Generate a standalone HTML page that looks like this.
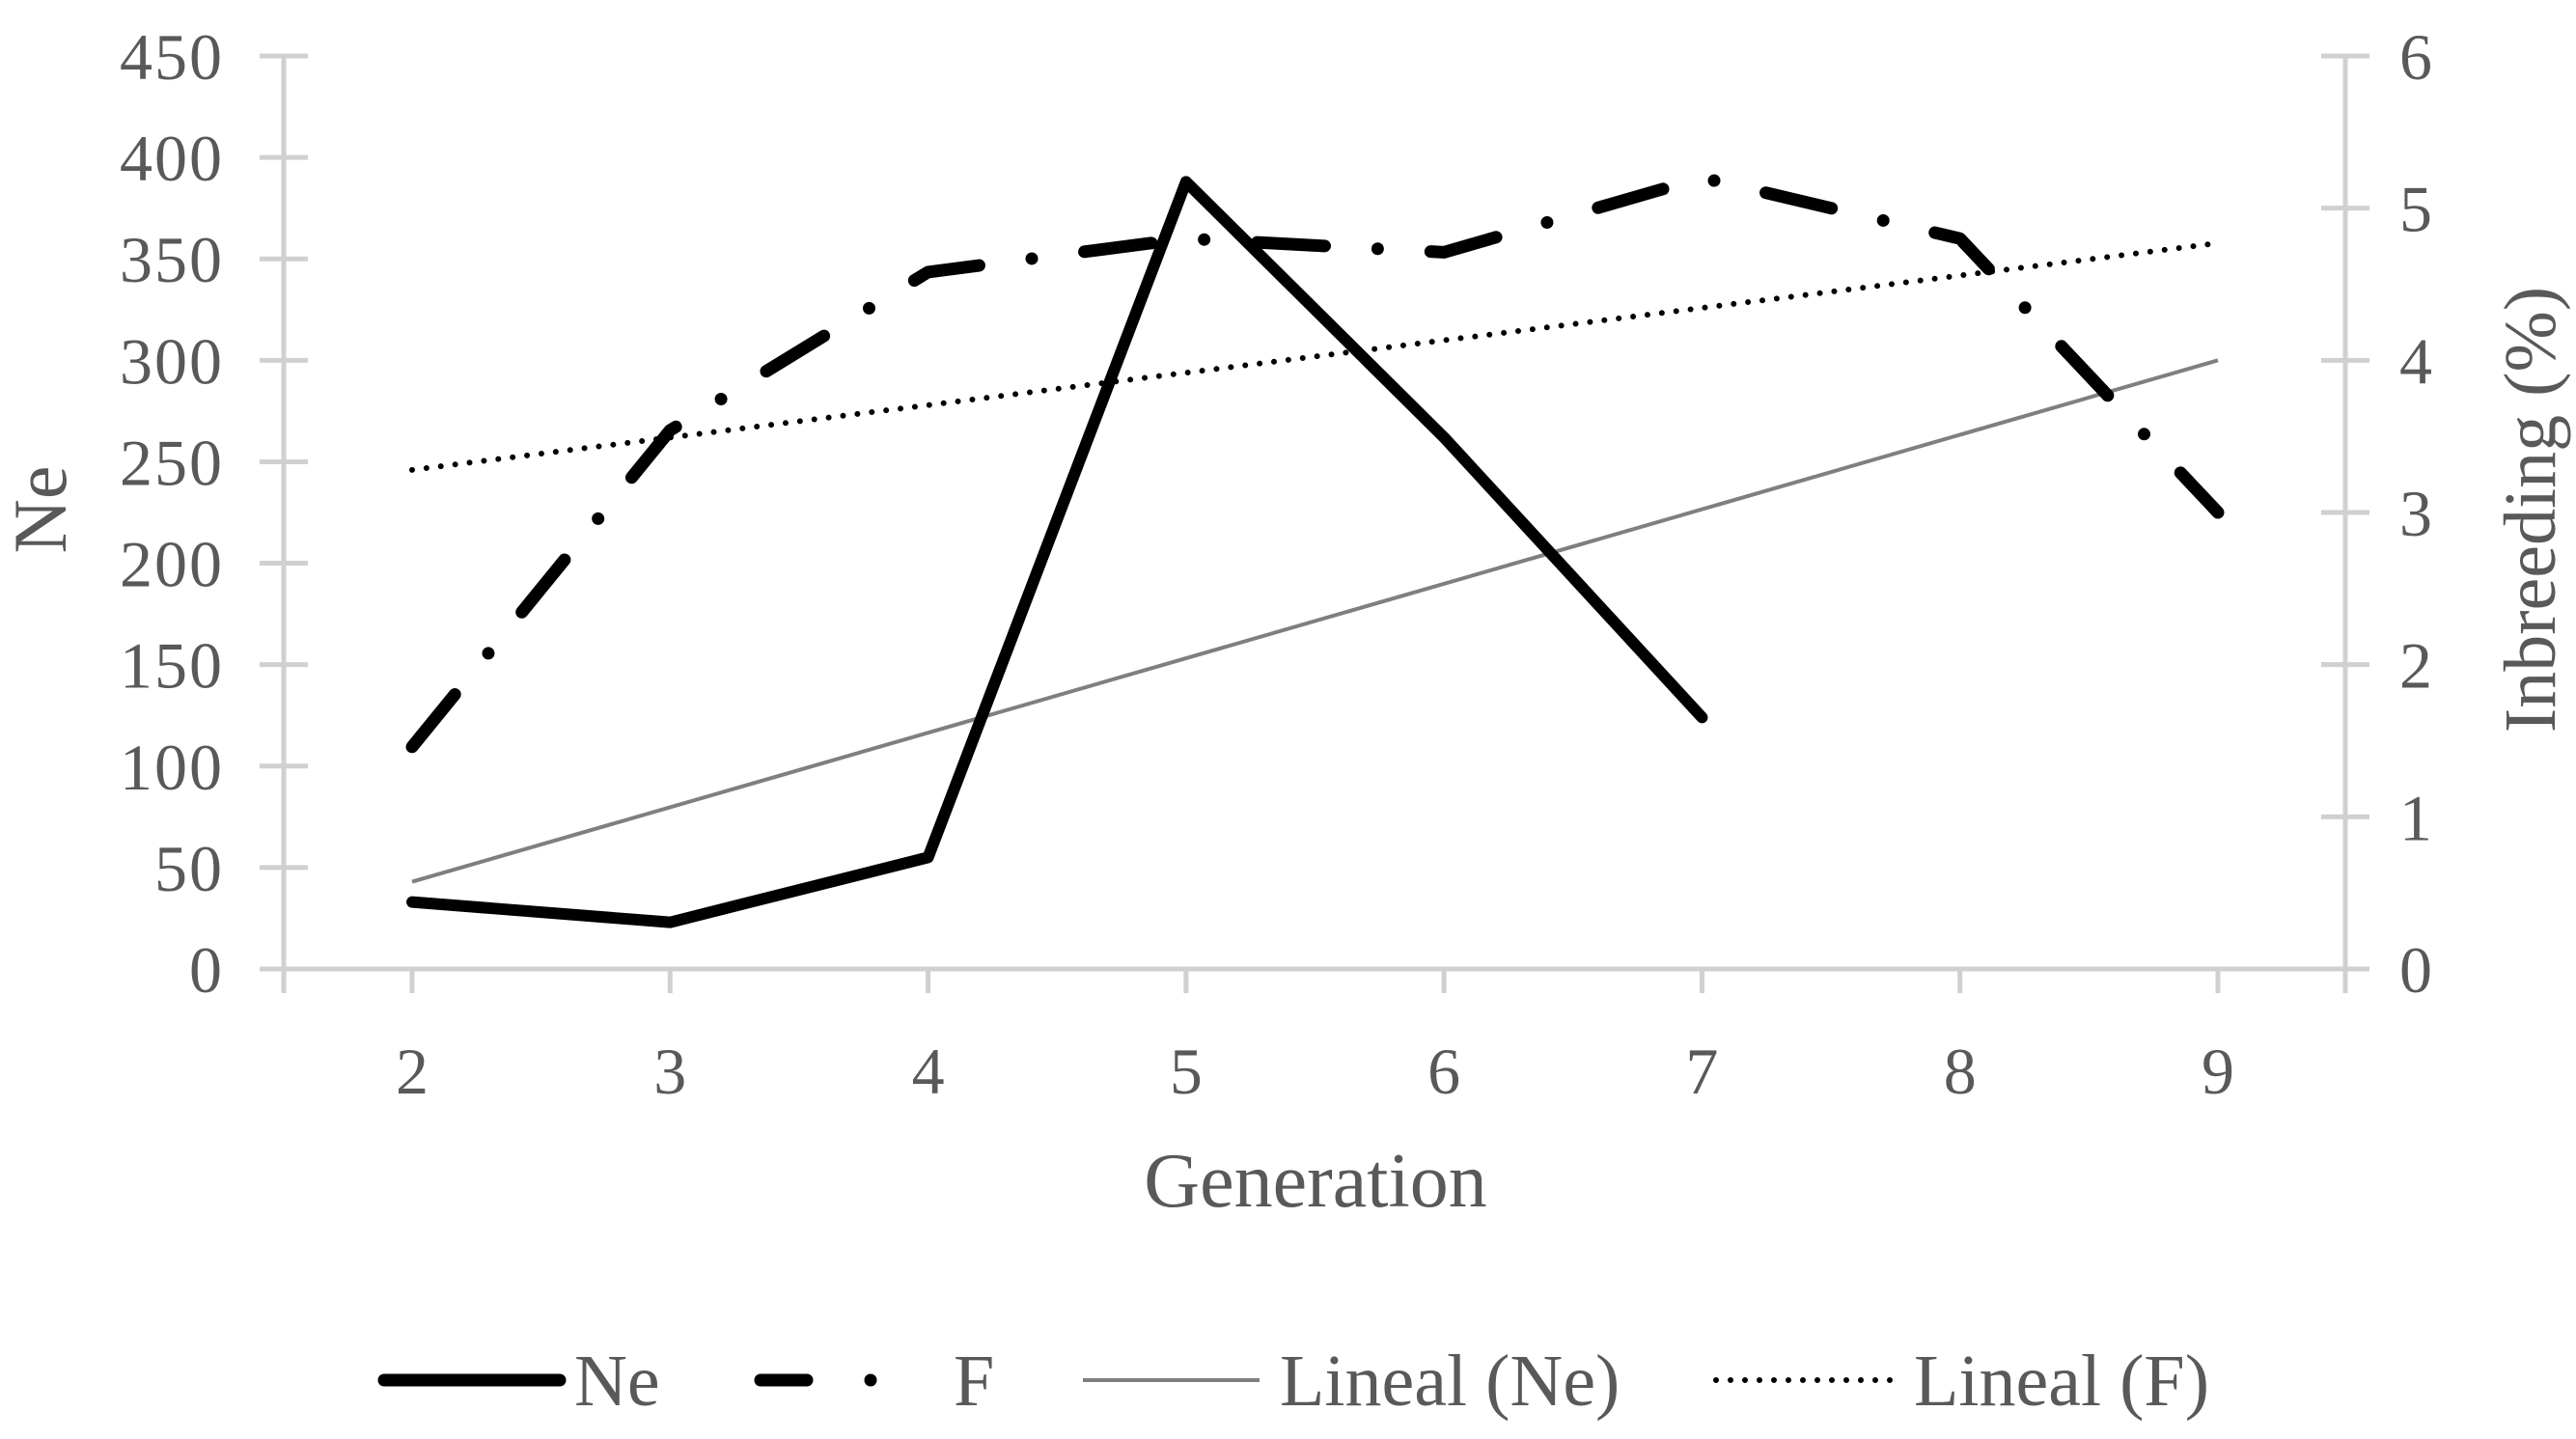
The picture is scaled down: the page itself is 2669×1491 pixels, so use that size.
<!DOCTYPE html>
<html><head><meta charset="utf-8"><style>
html,body{margin:0;padding:0;background:#fff;}
svg text{font-family:"Liberation Serif",serif;fill:#595959;}
</style></head><body>
<svg id="chart" width="2669" height="1486" viewBox="0 0 2669 1486" xmlns="http://www.w3.org/2000/svg">
<g id="axes"></g>
<g id="series"></g>
<text x="0" y="0" font-size="78" text-anchor="middle" transform="translate(68,528) rotate(-90)">Ne</text>
<text x="0" y="0" font-size="76" text-anchor="middle" transform="translate(2647,528) rotate(-90)">Inbreeding (%)</text>
<text x="1363" y="1250" font-size="80" text-anchor="middle">Generation</text>
<g id="legend">
  <g>
    <line x1="398" y1="1430" x2="580" y2="1430" stroke="#000" stroke-width="13" stroke-linecap="round"/>
    <text x="595" y="1456" font-size="76">Ne</text>
  </g>
  <g>
    <line x1="788" y1="1430" x2="836" y2="1430" stroke="#000" stroke-width="13" stroke-linecap="round"/>
    <line x1="902" y1="1430" x2="902" y2="1430" stroke="#000" stroke-width="13" stroke-linecap="round"/>
    <text x="988" y="1456" font-size="76">F</text>
  </g>
  <g>
    <line x1="1122" y1="1430" x2="1305" y2="1430" stroke="#7f7f7f" stroke-width="4"/>
    <text x="1326" y="1456" font-size="76">Lineal (Ne)</text>
  </g>
  <g>
    <line x1="1778" y1="1430" x2="1960" y2="1430" stroke="#000" stroke-width="6" stroke-dasharray="0 15" stroke-linecap="round"/>
    <text x="1983" y="1456" font-size="76">Lineal (F)</text>
  </g>
</g>
</svg>
<script>
const generations = [2,3,4,5,6,7,8,9];
const neValues = [33,23,55,388,262,124];
const fValues = [1.46,3.54,4.58,4.8,4.71,5.2,4.8,3.0];
const leftTicks = [0,50,100,150,200,250,300,350,400,450];
const rightTicks = [0,1,2,3,4,5,6];
const trendNeGen = [2,9];
const trendNeValues = [43,300];
const trendFGen = [2,9];
const trendFValues = [3.28,4.77];

const NS='http://www.w3.org/2000/svg';
const axL=294, axR=2430, y0=1004, yTop=58;
const xFirst=427, xLast=2298;
const xS=g=>xFirst+(g-2)*(xLast-xFirst)/7;
const yL=v=>y0-v*(y0-yTop)/450;
const yR=v=>y0-v*(y0-yTop)/6;
function mk(tag,attrs,parent){const e=document.createElementNS(NS,tag);for(const k in attrs)e.setAttribute(k,attrs[k]);parent.appendChild(e);return e;}
const axes=document.getElementById('axes'), series=document.getElementById('series');
const ac='#d0d0d0';
let e;
e=mk('line',{x1:axL,y1:yTop,x2:axL,y2:y0,stroke:ac,'stroke-width':5},axes);


e=mk('line',{x1:axR,y1:yTop,x2:axR,y2:y0,stroke:ac,'stroke-width':5},axes);


e=mk('line',{x1:axL-25,y1:y0,x2:axR+25,y2:y0,stroke:ac,'stroke-width':5},axes);


leftTicks.forEach(v=>{
  const t=mk('line',{x1:axL-25,y1:yL(v),x2:axL+25,y2:yL(v),stroke:ac,'stroke-width':5},axes);
  
  
  const l=mk('text',{x:axL-62,y:yL(v)+24,'font-size':68,'text-anchor':'end','letter-spacing':2},axes);
  l.textContent=v;
  
  
});
rightTicks.forEach(v=>{
  const t=mk('line',{x1:axR-25,y1:yR(v),x2:axR+25,y2:yR(v),stroke:ac,'stroke-width':5},axes);
  
  
  const l=mk('text',{x:axR+56,y:yR(v)+24,'font-size':68,'text-anchor':'start'},axes);
  l.textContent=v;
  
  
});
generations.forEach(g=>{
  const t=mk('line',{x1:xS(g),y1:y0,x2:xS(g),y2:y0+25,stroke:ac,'stroke-width':5},axes);
  
  
  const l=mk('text',{x:xS(g),y:1133,'font-size':68,'text-anchor':'middle'},axes);
  l.textContent=g;
  
  
});
[axL,axR].forEach(x=>{
  const t=mk('line',{x1:x,y1:y0,x2:x,y2:y0+25,stroke:ac,'stroke-width':5},axes);
  
  
});
function pts(gs,vs,ys){return vs.map((v,i)=>xS(gs[i])+','+ys(v)).join(' ');}
e=mk('polyline',{points:pts(trendNeGen,trendNeValues,yL),fill:'none',stroke:'#7f7f7f','stroke-width':4},series);


e=mk('polyline',{points:pts(trendFGen,trendFValues,yR),fill:'none',stroke:'#000','stroke-width':6,'stroke-dasharray':'0 15','stroke-linecap':'round'},series);


e=mk('polyline',{points:pts(generations,fValues,yR),fill:'none',stroke:'#000','stroke-width':13,'stroke-dasharray':'70 55 0 55','stroke-linecap':'round','stroke-linejoin':'round'},series);


e=mk('polyline',{points:pts(generations,neValues,yL),fill:'none',stroke:'#000','stroke-width':12,'stroke-linecap':'round','stroke-linejoin':'round'},series);


</script>
</body></html>
